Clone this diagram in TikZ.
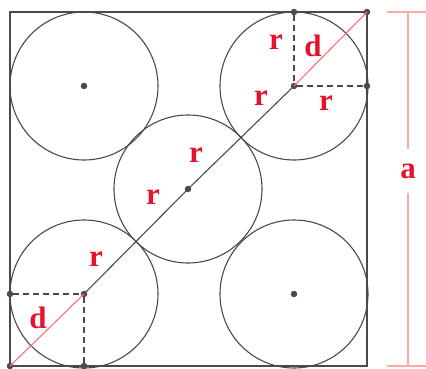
\documentclass[tikz,border=0pt]{standalone}
\usepackage{fontspec}
\setmainfont{Liberation Serif}
\usepackage{tikz}

\definecolor{edge}{HTML}{4A4A4A}
\definecolor{lbl}{HTML}{E8102A}
\definecolor{pinkline}{HTML}{FF7070}
\definecolor{dimline}{HTML}{FFA8A8}

\tikzset{
  dot/.style={circle, fill=edge, inner sep=0pt, minimum size=6.5pt},
  lab/.style={text=lbl, font=\bfseries\fontsize{31}{31}\selectfont, inner sep=1pt},
  dashline/.style={dashed, dash pattern=on 6pt off 4pt, line width=1.2pt, draw=edge}
}

\begin{document}
\begin{tikzpicture}[x=1pt, y=-1pt]
                    \useasboundingbox (0,0) rectangle (426,369);
                    % Square and circles
                    \draw[edge, line width=1.7pt] (10,12) rectangle (367,366);
                    \draw[edge, line width=1.1pt] (84,86) circle (74);
                    \draw[edge, line width=1.1pt] (294,86) circle (74);
                    \draw[edge, line width=1.1pt] (188,189) circle (74);
                    \draw[edge, line width=1.1pt] (84,294) circle (74);
                    \draw[edge, line width=1.1pt] (294,294) circle (74);
                    % Nodes
                    \node[dot] (tl) at (84,86) {};
                    \node[dot] (tr) at (294,86) {};
                    \node[dot] (c) at (188,189) {};
                    \node[dot] (bl) at (84,294) {};
                    \node[dot] (br) at (294,294) {};
                    \node[dot] (top) at (294,12) {};
                    \node[dot] (ne) at (367,12) {};
                    \node[dot] (right) at (367,86) {};
                    \node[dot] (left) at (10,294) {};
                    \node[dot] (sw) at (10,366) {};
                    \node[dot] (bottom) at (84,366) {};
                    % Edges
                    \draw[edge, line width=1.1pt] (bl.center) -- (c.center) -- (tr.center);
                    \draw[pinkline, line width=1.1pt] (tr.center) -- (ne.center);
                    \draw[pinkline, line width=1.1pt] (sw.center) -- (bl.center);
                    \draw[dashline] (top) -- (tr);
                    \draw[dashline] (tr) -- (right);
                    \draw[dashline] (left) -- (bl);
                    \draw[dashline] (bl) -- (bottom);
                    % Labels
                    \node[lab] at (276,42) {r};
                    \node[lab] at (313,46) {d};
                    \node[lab] at (261,98) {r};
                    \node[lab] at (326,103) {r};
                    \node[lab] at (196,155) {r};
                    \node[lab] at (153,197) {r};
                    \node[lab] at (96,259) {r};
                    \node[lab] at (38,318) {d};
                    % Dimension
                    \coordinate (a1) at (408,12);
                    \coordinate (a2) at (408,366);
                    \node[lab, inner sep=0pt, minimum height=44pt] (alab) at (408,171) {a};
                    \draw[dimline, line width=1.2pt] (a1) -- (alab);
                    \draw[dimline, line width=1.2pt] (alab) -- (a2);
                    \draw[dimline, line width=1.2pt] (387,12) -- (426,12);
                    \draw[dimline, line width=1.2pt] (387,366) -- (426,366);
                \end{tikzpicture}
\end{document}
